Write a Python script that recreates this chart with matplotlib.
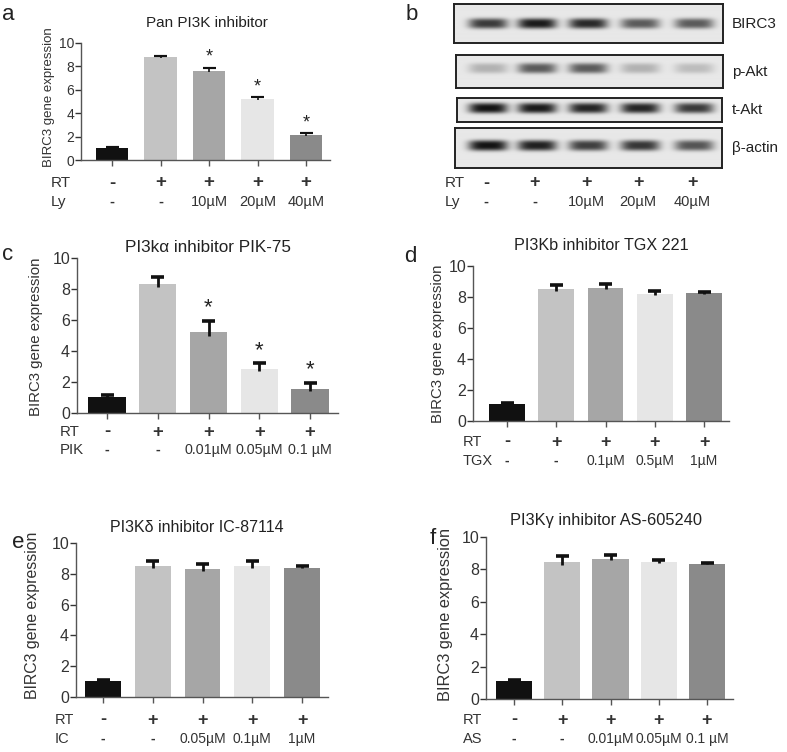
import numpy as np
import matplotlib.pyplot as plt

plt.rcParams['font.family'] = ['Liberation Sans', 'DejaVu Sans']

W, H = 787, 752

# bar colours shared by all bar panels
bar_colors = ['#111111', '#c3c3c3', '#a6a6a6', '#e6e6e6', '#8a8a8a']
rt_marks = ['-', '+', '+', '+', '+']

# panel a - pan PI3K inhibitor (Ly)
a_vals = [1.0, 8.8, 7.6, 5.2, 2.15]
a_errs = [0.08, 0.12, 0.3, 0.15, 0.15]
a_stars = [False, False, True, True, True]
a_doses = ['-', '-', '10µM', '20µM', '40µM']

# panel c - PIK-75
c_vals = [1.05, 8.3, 5.25, 2.85, 1.55]
c_errs = [0.12, 0.5, 0.7, 0.35, 0.4]
c_stars = [False, False, True, True, True]
c_doses = ['-', '-', '0.01µM', '0.05µM', '0.1 µM']

# panel d - TGX 221
d_vals = [1.1, 8.5, 8.6, 8.2, 8.25]
d_errs = [0.08, 0.3, 0.25, 0.2, 0.1]
d_doses = ['-', '-', '0.1µM', '0.5µM', '1µM']

# panel e - IC-87114
e_vals = [1.05, 8.5, 8.3, 8.5, 8.4]
e_errs = [0.07, 0.3, 0.35, 0.3, 0.1]
e_doses = ['-', '-', '0.05µM', '0.1µM', '1µM']

# panel f - AS-605240
f_vals = [1.1, 8.45, 8.65, 8.45, 8.35]
f_errs = [0.05, 0.4, 0.25, 0.15, 0.05]
f_doses = ['-', '-', '0.01µM', '0.05µM', '0.1 µM']

# panel b - western blot band strength per lane (0 none, 1 strongest)
blot_proteins = ['BIRC3', 'p-Akt', 't-Akt', 'β-actin']
birc3_bands = [0.8, 0.95, 0.88, 0.65, 0.65]
pakt_bands = [0.25, 0.65, 0.65, 0.25, 0.2]
takt_bands = [0.98, 0.95, 0.9, 0.9, 0.8]
actin_bands = [0.98, 0.92, 0.78, 0.82, 0.68]
ly_doses = ['-', '-', '10µM', '20µM', '40µM']


def px_axes(fig, l, t, r, b):
    return fig.add_axes([l / W, 1 - b / H, (r - l) / W, (b - t) / H])


def fig_text(fig, x, y, s, **kw):
    fig.text(x / W, 1 - y / H, s, **kw)


def bar_panel(fig, p):
    l, t, r, b = p['box']
    c0, sp = p['c0'], p['sp']
    ax = px_axes(fig, l, t, r, b)
    vals, errs = p['vals'], p['errs']
    xs = np.arange(len(vals))
    ax.bar(xs, vals, width=p['bw'], color=bar_colors, edgecolor='none', zorder=2)
    cw = 6.5 / sp
    lo = [v - 0.4 * e for v, e in zip(vals, errs)]
    hi = [v + e for v, e in zip(vals, errs)]
    ax.vlines(xs, lo, hi, color='#111111', lw=p['elw'], zorder=3)
    ax.hlines(hi, xs - cw, xs + cw, color='#111111', lw=p['elw'] * 1.3, zorder=3)
    for x, h, s in zip(xs, hi, p['stars']):
        if s:
            ax.text(x, h + 0.15, '*', ha='center', va='bottom',
                    fontsize=p['star_fs'], color='#222222')
    ax.set_xlim((l - c0) / sp, (r - c0) / sp)
    ax.set_ylim(0, 10)
    ax.set_yticks([0, 2, 4, 6, 8, 10])
    ax.set_xticks(xs)
    ax.set_xticklabels([])
    ax.tick_params(axis='y', direction='out', length=4, width=1,
                   labelsize=p['tick_fs'], colors='#333333', pad=1)
    ax.tick_params(axis='x', direction='out', length=4, width=1, colors='#555555')
    for side in ['top', 'right']:
        ax.spines[side].set_visible(False)
    for side in ['left', 'bottom']:
        ax.spines[side].set_color('#555555')
        ax.spines[side].set_linewidth(1.0)
    ax.set_ylabel('BIRC3 gene expression', fontsize=p['ylab_fs'], color='#333333')
    ax.yaxis.set_label_coords((p['ylab_x'] - l) / (r - l), p['ylab_y'])
    tr = ax.get_xaxis_transform()
    y1 = (b - p['row_y'][0]) / (b - t)
    y2 = (b - p['row_y'][1]) / (b - t)
    for x, m, d in zip(xs, rt_marks, p['doses']):
        ax.text(x, y1, m, transform=tr, ha='center', va='center',
                fontsize=p['row_fs'] + 3, fontweight='bold', color='#333333')
        ax.text(x, y2, d, transform=tr, ha='center', va='center',
                fontsize=p['row_fs'], color='#333333',
                fontweight='bold' if d == '-' else 'normal')
    fig_text(fig, p['row_x'], p['row_y'][0], 'RT', ha='left', va='center',
             fontsize=p['row_fs'] + 0.5, color='#333333')
    fig_text(fig, p['row_x'], p['row_y'][1], p['drug'], ha='left', va='center',
             fontsize=p['row_fs'] + 0.5, color='#333333')
    fig_text(fig, p['title_xy'][0], p['title_xy'][1], p['title'], ha='center',
             va='center', fontsize=p['title_fs'], color='#222222')
    fig_text(fig, p['letter_xy'][0], p['letter_xy'][1], p['letter'], ha='center',
             va='center', fontsize=16, color='#222222')
    return ax


fig = plt.figure(figsize=(W / 100, H / 100), dpi=100)

panels = [
    dict(box=(81, 43, 330, 160), c0=112, sp=48.5, bw=0.68, vals=a_vals, errs=a_errs,
         stars=a_stars, doses=a_doses, drug='Ly', title='Pan PI3K inhibitor',
         title_xy=(207, 23), title_fs=11, ylab_x=55, ylab_y=0.54, ylab_fs=9.5, tick_fs=10,
         row_y=(183, 202), row_x=51, row_fs=10.5, elw=1.2, star_fs=13,
         letter='a', letter_xy=(8, 15)),
    dict(box=(77, 258, 338, 413), c0=107, sp=50.75, bw=0.73, vals=c_vals, errs=c_errs,
         stars=c_stars, doses=c_doses, drug='PIK', title='PI3kα inhibitor PIK-75',
         title_xy=(208, 247), title_fs=12.3, ylab_x=43, ylab_y=0.49, ylab_fs=10.8,
         tick_fs=11.5, row_y=(432, 450), row_x=60, row_fs=10.3, elw=2.0, star_fs=16,
         letter='c', letter_xy=(8, 254)),
    dict(box=(473, 266, 729, 421), c0=507, sp=49.25, bw=0.73, vals=d_vals, errs=d_errs,
         stars=[False] * 5, doses=d_doses, drug='TGX', title='PI3Kb inhibitor TGX 221',
         title_xy=(601, 245), title_fs=11.6, ylab_x=445, ylab_y=0.5, ylab_fs=10.8,
         tick_fs=11.5, row_y=(442, 461), row_x=463, row_fs=10, elw=2.0, star_fs=16,
         letter='d', letter_xy=(410, 257)),
    dict(box=(76, 543, 328, 697), c0=103, sp=49.75, bw=0.72, vals=e_vals, errs=e_errs,
         stars=[False] * 5, doses=e_doses, drug='IC', title='PI3Kδ inhibitor IC-87114',
         title_xy=(197, 528), title_fs=11.5, ylab_x=40, ylab_y=0.53, ylab_fs=11.4,
         tick_fs=11.5, row_y=(720, 739), row_x=55, row_fs=10, elw=2.0, star_fs=16,
         letter='e', letter_xy=(18, 543)),
    dict(box=(486, 537, 733, 699), c0=514, sp=48.25, bw=0.75, vals=f_vals, errs=f_errs,
         stars=[False] * 5, doses=f_doses, drug='AS', title='PI3Kγ inhibitor AS-605240',
         title_xy=(606, 521), title_fs=11.8, ylab_x=453, ylab_y=0.52, ylab_fs=11.8,
         tick_fs=11.5, row_y=(720, 739), row_x=463, row_fs=10, elw=2.0, star_fs=16,
         letter='f', letter_xy=(433, 538)),
]
for p in panels:
    bar_panel(fig, p)

# panel b: western blot drawn as a rendered band image per protein
blot_boxes = [(454, 4, 723, 43), (456, 55, 723, 88), (457, 98, 722, 122), (455, 128, 722, 168)]
blot_label_y = [24, 72, 110, 148]
band_center = [0.5, 0.4, 0.42, 0.45]
lane_x = [488, 537, 588, 640, 694]
for name, bands, (l, t, r, b), ly, yc in zip(blot_proteins,
                                             [birc3_bands, pakt_bands, takt_bands, actin_bands],
                                             blot_boxes, blot_label_y, band_center):
    ax = px_axes(fig, l, t, r, b)
    gx = np.arange(l, r, 0.5)
    gy = np.linspace(0, 1, 160)
    X, Y = np.meshgrid(gx, gy)
    half = 5.2 / (b - t)
    img = np.full(X.shape, 0.91)
    for cx, s in zip(lane_x, bands):
        horiz = np.exp(-np.abs((X - cx) / 19.5) ** 4)
        vert = np.exp(-np.abs((Y - yc) / half) ** 3)
        img -= 0.85 * s * horiz * vert
    ax.imshow(np.clip(img, 0, 1), cmap='gray', vmin=0, vmax=1, aspect='auto',
              extent=(l, r, 1, 0), interpolation='bilinear')
    ax.set_xlim(l, r)
    ax.set_ylim(1, 0)
    ax.set_xticks([])
    ax.set_yticks([])
    for sp_ in ax.spines.values():
        sp_.set_linewidth(1.4)
        sp_.set_color('#222222')
    fig_text(fig, 732, ly, name, ha='left', va='center', fontsize=11, color='#222222')

for cx, m, d in zip(lane_x, rt_marks, ly_doses):
    fig_text(fig, cx - 2, 183, m, ha='center', va='center',
             fontsize=13, fontweight='bold', color='#333333')
    fig_text(fig, cx - 2, 202, d, ha='center', va='center', fontsize=10.5,
             color='#333333', fontweight='bold' if d == '-' else 'normal')
fig_text(fig, 445, 183, 'RT', ha='left', va='center', fontsize=11, color='#333333')
fig_text(fig, 445, 202, 'Ly', ha='left', va='center', fontsize=11, color='#333333')
fig_text(fig, 412, 15, 'b', ha='center', va='center', fontsize=16, color='#222222')

fig.savefig('out.png', dpi=100, facecolor='white')
